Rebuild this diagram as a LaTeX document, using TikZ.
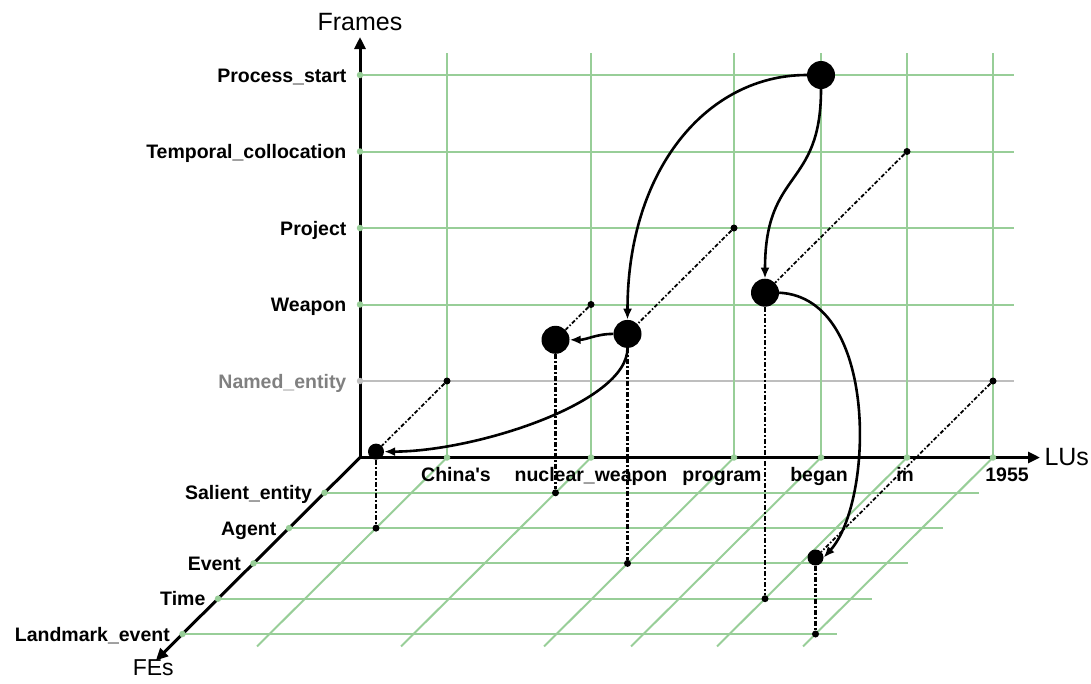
\documentclass[tikz,border=0pt]{standalone}
\usepackage{fontspec}
\setmainfont{Liberation Sans}
\usetikzlibrary{arrows.meta,calc,positioning}
\definecolor{fngreen}{RGB}{152,206,152}
\definecolor{fngray}{RGB}{190,190,190}
\definecolor{fnlabel}{RGB}{128,128,128}

\begin{document}
\begin{tikzpicture}[x={(1pt,0pt)},y={(0pt,-1pt)},z={(-35.5pt,-35.3pt)},
    every node/.style={inner sep=0pt},
    lbl/.style={font=\fontsize{19.5}{21}\selectfont\bfseries,text height=14pt,text depth=0pt},
    axlbl/.style={font=\fontsize{25}{28}\selectfont},
    gline/.style={line width=2pt},
    axis/.style={line width=3pt,-{Triangle[length=12pt,width=11pt]}},
    gdot/.style={circle,minimum size=6.5pt},
    bigdot/.style={circle,fill=black,minimum size=28pt},
    middot/.style={circle,fill=black,minimum size=16pt},
    smalldot/.style={circle,fill=black,minimum size=7pt},
    link/.style={line width=2.6pt,-{Latex[length=11pt,width=9pt]}},
    proj/.style={dash pattern=on 4pt off 2pt on 1.5pt off 2pt,line width=1.8pt},
    drop/.style={dash pattern=on 5pt off 2pt on 2pt off 2pt,line width=2.2pt}]
    \useasboundingbox (0,0) rectangle (1091,683);
    \coordinate (o) at (360,457.5);
    \coordinate (ftip) at (360,37);
    \coordinate (ltip) at (1040,457.5);
    \coordinate (etip) at (360,457.5,5.75);
    \draw[axis] (o) -- (ftip) node[axlbl,above=5pt] (frames) {Frames};
    \draw[axis] (o) -- (ltip) node[axlbl,right=3pt] (lus) {LUs};
    \draw[axis] (o) -- (etip);
    \node[axlbl,font=\fontsize{23}{25}\selectfont,below left=-1pt and -18pt of etip] (fes) {FEs};
    \foreach \y/\fr/\c/\tc [count=\i] in {75/Process\_start/fngreen/black,151.5/Temporal\_collocation/fngreen/black,
        228/Project/fngreen/black,304.5/Weapon/fngreen/black,381/Named\_entity/fngray/fnlabel} {
      \draw[gline,\c] (360,\y) -- (1014,\y);
      \node[gdot,fill=\c] (f\i) at (360,\y) {};
      \node[lbl,text=\tc,left=10pt of f\i] (fl\i) {\fr};
    }
    \foreach \x/\lu/\dx [count=\i] in {447/China\textquotesingle{}s/9,591/nuclear\_weapon/0,734/program/-12,
        821/began/-2,907/in/-2,993/1955/14} {
      \draw[gline,fngreen] (\x,53) -- (\x,457.5);
      \draw[gline,fngreen] (\x,457.5,0) -- (\x,457.5,5.35);
      \node[gdot,fill=fngreen] (l\i) at (\x,457.5) {};
      \node[lbl] (ll\i) at (\x+\dx,474) {\lu};
    }
    \foreach \fe [count=\k] in {Salient\_entity,Agent,Event,Time,Landmark\_event} {
      \draw[gline,fngreen] (360,457.5,\k) -- (1014,457.5,\k);
      \node[gdot,fill=fngreen] (e\k) at (360,457.5,\k) {};
      \node[lbl,left=9pt of e\k] (el\k) {\fe};
    }
    \node[bigdot] (began) at (821,75) {};
    \foreach \n/\x/\y/\k/\s in {china/447/381/2/middot,nuke/591/304.5/1/bigdot,prog/734/228/3/bigdot,
        inlu/907/151.5/4/bigdot,year/993/381/5/middot} {
      \node[\s] (\n) at (\x,\y,\k) {};
      \node[smalldot] (\n-w) at (\x,\y) {};
      \node[smalldot] (\n-f) at (\x,457.5,\k) {};
      \draw[proj] (\n-w) -- (\n);
      \draw[drop] (\n) -- (\n-f);
    }
    \draw[link] (began.west) .. controls +(-100,0) and +(0,-150) .. (prog.north);
    \draw[link] (began.south) .. controls +(0,100) and +(0,-110) .. (inlu.north);
    \draw[link] (prog.west) to[out=180,in=0] (nuke.east);
    \draw[link] (prog.south) .. controls +(0,55) and +(90,0) .. (china.east);
    \draw[link] (inlu.east) .. controls +(100,5) and +(50,-55) .. (year.east);
\end{tikzpicture}
\end{document}
